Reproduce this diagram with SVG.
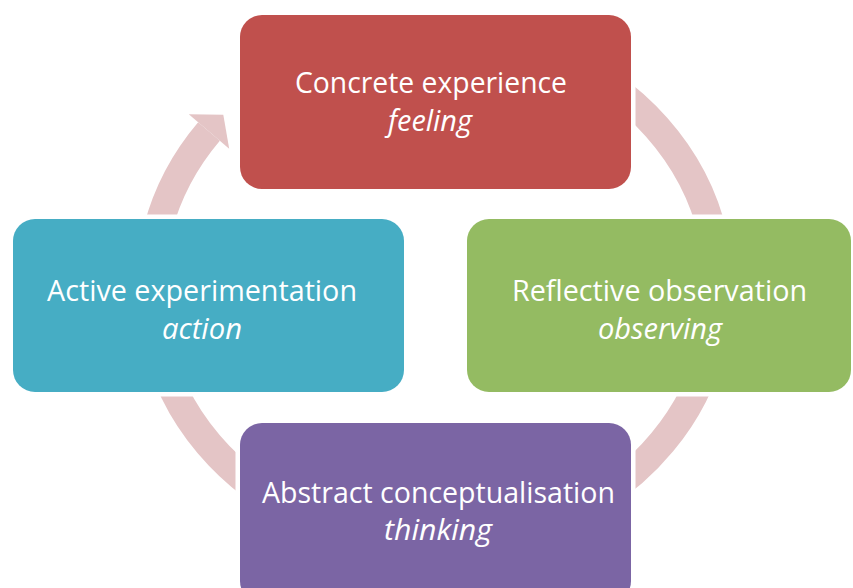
<svg xmlns="http://www.w3.org/2000/svg" width="853" height="588" viewBox="0 0 853 588">
<style>
.box{stroke:#ffffff;stroke-width:9;paint-order:stroke}
.t{font-family:"Open Sans","Liberation Sans",sans-serif;font-size:29px;fill:#ffffff;text-anchor:middle}
.i{font-style:italic}
.ring{fill:none;stroke:#E4C5C6;stroke-width:28.5;stroke-linecap:butt}
</style>
<rect width="853" height="588" fill="#ffffff"/>
<g id="connectors">
<path class="ring" d="M 435 31 A 284.5 257 0 1 1 209 131.5"/>
<polygon points="188.8,114.3 223.3,114.8 229.2,148.7" fill="#E4C5C6"/>
</g>
<g id="concrete">
<rect class="box" x="240" y="15" width="391" height="174" rx="22" fill="#C0504D"/>
<text class="t" x="431" y="93" textLength="272" lengthAdjust="spacingAndGlyphs">Concrete experience</text>
<text class="t i" x="430" y="131" textLength="84" lengthAdjust="spacingAndGlyphs">feeling</text>
</g>
<g id="active">
<rect class="box" x="13" y="219" width="391" height="173" rx="22" fill="#46ADC4"/>
<text class="t" x="202" y="301" textLength="310" lengthAdjust="spacingAndGlyphs">Active experimentation</text>
<text class="t i" x="202" y="339" textLength="80" lengthAdjust="spacingAndGlyphs">action</text>
</g>
<g id="reflective">
<rect class="box" x="467" y="219" width="384" height="173" rx="22" fill="#94BB62"/>
<text class="t" x="659.5" y="301" textLength="295" lengthAdjust="spacingAndGlyphs">Reflective observation</text>
<text class="t i" x="660" y="339" textLength="124" lengthAdjust="spacingAndGlyphs">observing</text>
</g>
<g id="abstract">
<rect class="box" x="240" y="423" width="391" height="180" rx="22" fill="#7B65A4"/>
<text class="t" x="438.5" y="503" textLength="353" lengthAdjust="spacingAndGlyphs">Abstract conceptualisation</text>
<text class="t i" x="438" y="540" textLength="108" lengthAdjust="spacingAndGlyphs">thinking</text>
</g>
</svg>
